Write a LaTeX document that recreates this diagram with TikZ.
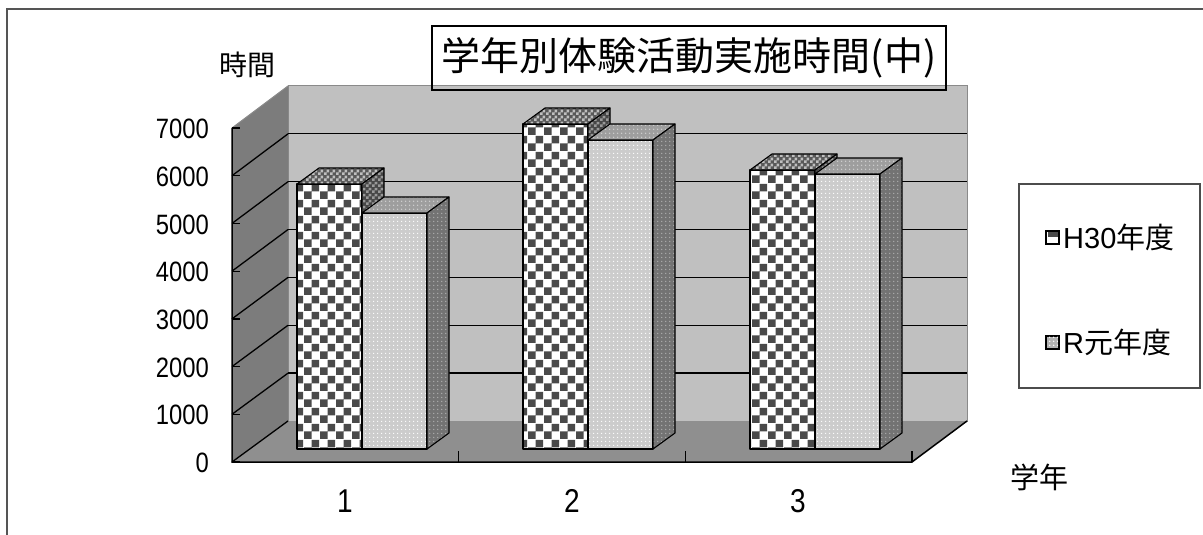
\documentclass[tikz,border=0pt]{standalone}
\usepackage{fontspec}
\setmainfont{Liberation Sans}
\newfontfamily\jp{Noto Sans CJK JP}
\usetikzlibrary{patterns,patterns.meta}
\definecolor{wallback}{HTML}{C0C0C0}
\definecolor{wallside}{HTML}{7C7C7C}
\definecolor{floorc}{HTML}{8F8F8F}
\definecolor{walledge}{HTML}{8A8A8A}
\definecolor{chkdark}{HTML}{4A4A4A}
\definecolor{framec}{HTML}{555555}
\pgfdeclarepattern{
  name=bigcheck, type=uncolored,
  bottom left={\pgfpointorigin}, top right={\pgfpoint{16bp}{16bp}},
  tile size={\pgfpoint{16bp}{16bp}},
  code={\pgfpathrectangle{\pgfpointorigin}{\pgfpoint{8bp}{8bp}}%
        \pgfpathrectangle{\pgfpoint{8bp}{8bp}}{\pgfpoint{8bp}{8bp}}%
        \pgfusepath{fill}}}
\pgfdeclarepattern{
  name=smallcheck, type=uncolored,
  bottom left={\pgfpointorigin}, top right={\pgfpoint{6bp}{6bp}},
  tile size={\pgfpoint{6bp}{6bp}},
  code={\pgfpathrectangle{\pgfpointorigin}{\pgfpoint{3bp}{3bp}}%
        \pgfpathrectangle{\pgfpoint{3bp}{3bp}}{\pgfpoint{3bp}{3bp}}%
        \pgfusepath{fill}}}
\pgfdeclarepattern{
  name=finedots, type=uncolored,
  bottom left={\pgfpointorigin}, top right={\pgfpoint{4bp}{4bp}},
  tile size={\pgfpoint{4bp}{4bp}},
  code={\pgfpathcircle{\pgfpoint{2bp}{2bp}}{0.9bp}\pgfusepath{fill}}}
\newcommand\drawcube[3]{%
  \path[#3front] (#1,449) rectangle (#1+65,#2);
  \path[#3top] (#1,#2) -- (#1+65,#2) -- (#1+87,#2-16) -- (#1+22,#2-16) -- cycle;
  \path[#3side] (#1+65,#2) -- (#1+87,#2-16) -- (#1+87,433) -- (#1+65,449) -- cycle;
}
\begin{document}
\begin{tikzpicture}[x=1bp,y=-1bp,
  gridl/.style={draw=black, line width=1.3bp},
  axisl/.style={draw=black, line width=1.5bp},
  face/.style={draw=black, line width=1.1bp, line join=round},
  Hfront/.style={face, preaction={fill=white}, pattern=bigcheck, pattern color=chkdark},
  Htop/.style={face, preaction={fill=black!65}, pattern=smallcheck, pattern color=black!25},
  Hside/.style={face, preaction={fill=black!72}, pattern=smallcheck, pattern color=black!40},
  Rfront/.style={face, preaction={fill=black!20}, pattern=finedots, pattern color=white},
  Rtop/.style={face, preaction={fill=black!38}, pattern=finedots, pattern color=black!18},
  Rside/.style={face, preaction={fill=black!55}, pattern=finedots, pattern color=black!32},
  tick/.style={font=\fontsize{28bp}{32bp}\selectfont, xscale=0.85, inner sep=0pt},
  jplab/.style={font=\jp\fontsize{27bp}{32bp}\selectfont, inner sep=0pt}]
\useasboundingbox (0,0) rectangle (1203,535);
\fill[white] (0,0) rectangle (1203,535);
\draw[framec, line width=1.6bp] (7,540) -- (7,9) -- (1210,9);
% walls
\filldraw[fill=wallback, draw=walledge, line width=1bp] (288,86) rectangle (967,421);
\fill[wallside] (232,128) -- (288,86) -- (288,421) -- (232,462) -- cycle;
\fill[floorc] (232,462) -- (288,421) -- (967,421) -- (912,462) -- cycle;
\draw[walledge, line width=1bp] (232,128) -- (288,86);
\foreach \k in {1,...,6} \draw[gridl] (288,{421-47.86*\k}) -- (967,{421-47.86*\k});
\foreach \k in {0,...,6} \draw[gridl] (232,{462-47.71*\k}) -- (288,{421-47.86*\k});
\foreach \k in {0,...,7} \draw[gridl] (232,{462-47.71*\k}) -- ++(8,0);
\draw[axisl] (232,128) -- (232,462) -- (912,462) -- (967,421);
\foreach \xx in {458.7,685.3,912} \draw[axisl] (\xx,451) -- (\xx,462);
% bars
\drawcube{297}{184}{H}
\drawcube{362}{213}{R}
\drawcube{523}{124}{H}
\drawcube{588}{140}{R}
\drawcube{750}{170}{H}
\drawcube{815}{174}{R}
% y labels
\foreach \k/\lab in {0/0,1/1000,2/2000,3/3000,4/4000,5/5000,6/6000,7/7000}
  \node[tick, anchor=east] (y\k) at (209,{463-47.71*\k}) {\lab};
\node[tick, font=\fontsize{33bp}{36bp}\selectfont] (x1) at (345,501) {1};
\node[tick, font=\fontsize{33bp}{36bp}\selectfont] (x2) at (572,501) {2};
\node[tick, font=\fontsize{33bp}{36bp}\selectfont] (x3) at (798,501) {3};
\node[jplab, font=\jp\fontsize{28bp}{32bp}\selectfont] (ytitle) at (247,65) {時間};
\node[jplab, font=\jp\fontsize{29bp}{32bp}\selectfont] (xtitle) at (1039,477) {学年};
% title
\node[draw=black, line width=1.8bp, minimum width=514bp, minimum height=64bp,
      font=\jp\fontsize{39bp}{44bp}\selectfont, inner sep=0pt] (title) at (689,58) {学年別体験活動実施時間(中)};
% legend
\node[draw=black!70, line width=1.3bp, fill=white, minimum width=181bp, minimum height=204bp] (legend) at (1109.5,286) {};
\filldraw[fill=white, draw=black, line width=1.6bp] (1046,231) rectangle (1059,244);
\fill[chkdark] (1047.5,232.5) rectangle (1057.5,237.5);
\filldraw[fill=black!30, draw=black, line width=1.6bp] (1046,336) rectangle (1059,349);
\fill[pattern=finedots, pattern color=white] (1047,337) rectangle (1058,348);
\node[anchor=west, inner sep=0pt, font=\fontsize{29bp}{32bp}\selectfont] (leg1) at (1063,237) {H30{\jp 年度}};
\node[anchor=west, inner sep=0pt, font=\fontsize{29bp}{32bp}\selectfont] (leg2) at (1063,342) {R{\jp 元年度}};
\end{tikzpicture}
\end{document}
